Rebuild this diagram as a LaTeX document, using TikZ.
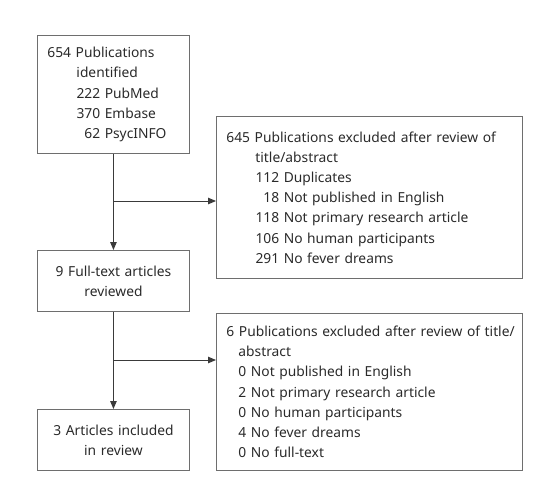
\documentclass[tikz,border=0pt]{standalone}
\usepackage{fontspec}
\setmainfont{Noto Sans}
\usetikzlibrary{arrows.meta}
\definecolor{boxline}{HTML}{6E6E6E}
\definecolor{arrline}{HTML}{3A3A3A}
\definecolor{txt}{HTML}{2A2A2A}
\newcommand{\nb}[1]{\makebox[1.72em][r]{#1}}
\begin{document}
\begin{tikzpicture}[x=1pt,y=-1pt,
  box/.style={draw=boxline, line width=0.9pt, anchor=north west, inner xsep=10pt, inner ysep=0pt,
    text=txt, font=\fontsize{13.8}{20.2}\selectfont},
  lbox/.style={box, align=left},
  cbox/.style={box, align=center},
  arr/.style={draw=arrline, line width=0.9pt, -{Triangle[length=8pt,width=6.5pt]}}]
\useasboundingbox (0,0) rectangle (537,479);
\node[lbox, minimum width=152pt, minimum height=118pt, text width=132pt] (b1) at (37,35)
 {654 Publications\\
  \hspace*{29pt}identified\\
  \hspace*{29pt}\nb{222} PubMed\\
  \hspace*{29pt}\nb{370} Embase\\
  \hspace*{29pt}\nb{62} PsycINFO};
\node[lbox, minimum width=306pt, minimum height=162pt, text width=286pt] (b2) at (216,116)
 {\mbox{645 Publications excluded after review of}\\
  \hspace*{29pt}title/abstract\\
  \hspace*{29pt}\nb{112} Duplicates\\
  \hspace*{29pt}\nb{18} Not published in English\\
  \hspace*{29pt}\nb{118} Not primary research article\\
  \hspace*{29pt}\nb{106} No human participants\\
  \hspace*{29pt}\nb{291} No fever dreams};
\node[cbox, minimum width=152pt, minimum height=61pt, text width=132pt] (b3) at (37,250)
 {9 Full-text articles\\reviewed};
\node[lbox, minimum width=306pt, minimum height=157pt, text width=286pt] (b4) at (216,313)
 {\mbox{6 Publications excluded after review of title/}\\
  \hspace*{12pt}abstract\\
  \hspace*{12pt}0 Not published in English\\
  \hspace*{12pt}2 Not primary research article\\
  \hspace*{12pt}0 No human participants\\
  \hspace*{12pt}4 No fever dreams\\
  \hspace*{12pt}0 No full-text};
\node[cbox, minimum width=152pt, minimum height=61pt, text width=132pt] (b5) at (37,409)
 {3 Articles included\\in review};
\coordinate (j1) at (113,201);
\coordinate (j2) at (113,360);
\draw[arr] (b1.south) -- (b3.north);
\draw[arr] (j1) -- (j1 -| b2.west);
\draw[arr] (b3.south) -- (b5.north);
\draw[arr] (j2) -- (j2 -| b4.west);
\end{tikzpicture}
\end{document}
